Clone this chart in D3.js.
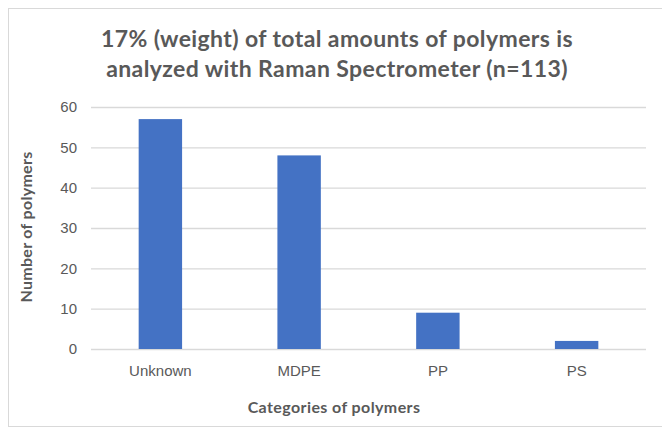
<!DOCTYPE html>
<html>
<head>
<meta charset="utf-8">
<script src="https://cdn.jsdelivr.net/npm/d3@7/dist/d3.min.js"></script>
<style>
  html, body { margin: 0; padding: 0; background: #fff; }
  svg { display: block; font-family: Lato, "Open Sans", sans-serif; }
</style>
</head>
<body>
<script>
const categories = ['Unknown', 'MDPE', 'PP', 'PS'];
const counts = [57, 48, 9, 2];
const yTicks = [0, 10, 20, 30, 40, 50, 60];
const titleLines = ['17% (weight) of total amounts of polymers is', 'analyzed with Raman Spectrometer (n=113)'];
const xTitle = 'Categories of polymers';
const yTitle = 'Number of polymers';

const w = 662;
const h = 429;
const plot = { left: 91, right: 646, top: 107, bottom: 349 };

const svg = d3.select('body').append('svg')
  .attr('width', w)
  .attr('height', h);

// chart frame
svg.append('rect')
  .attr('x', 8.5).attr('y', 8.5)
  .attr('width', 670).attr('height', 418)
  .attr('fill', '#fff')
  .attr('stroke', '#d9d9d9');

const x = d3.scaleBand()
  .domain(categories)
  .range([plot.left, plot.right])
  .paddingInner(0.687)
  .paddingOuter(0.3435);

const y = d3.scaleLinear()
  .domain([0, 60])
  .range([plot.bottom, plot.top]);

// gridlines + y labels
const yAxis = d3.axisLeft(y).tickValues(yTicks).tickSize(-(plot.right - plot.left)).tickPadding(14);
const gy = svg.append('g')
  .attr('transform', 'translate(' + plot.left + ',0)')
  .call(yAxis);
gy.select('.domain').remove();
gy.selectAll('line').attr('stroke', '#d9d9d9').attr('stroke-width', 1.3);
gy.selectAll('text')
  .attr('fill', '#595959')
  .style('font-size', '15px');

// bars
svg.append('g').selectAll('rect')
  .data(categories)
  .join('rect')
  .attr('x', (d) => x(d))
  .attr('y', (d, i) => y(counts[i]))
  .attr('width', x.bandwidth())
  .attr('height', (d, i) => y(0) - y(counts[i]))
  .attr('fill', '#4472c4');

// x labels
const xAxis = d3.axisBottom(x).tickSize(0).tickPadding(16);
const gx = svg.append('g')
  .attr('transform', 'translate(0,' + plot.bottom + ')')
  .call(xAxis);
gx.select('.domain').remove();
gx.selectAll('text')
  .attr('fill', '#595959')
  .style('font-size', '15px');

// title
svg.append('text')
  .attr('text-anchor', 'middle')
  .attr('fill', '#595959')
  .style('font-size', '23px')
  .style('font-weight', 'bold')
  .style('letter-spacing', '0.4px')
  .selectAll('tspan')
  .data(titleLines)
  .join('tspan')
  .attr('x', 337)
  .attr('y', (d, i) => 47 + i * 30)
  .text((d) => d);

// axis titles
svg.append('text')
  .attr('x', 334)
  .attr('y', 413)
  .attr('text-anchor', 'middle')
  .attr('fill', '#595959')
  .style('font-size', '16px')
  .style('font-weight', 'bold')
  .style('letter-spacing', '0.4px')
  .text(xTitle);

svg.append('text')
  .attr('transform', 'translate(32,227) rotate(-90)')
  .attr('text-anchor', 'middle')
  .attr('fill', '#595959')
  .style('font-size', '16px')
  .style('font-weight', 'bold')
  .style('letter-spacing', '0.3px')
  .text(yTitle);
</script>
</body>
</html>
